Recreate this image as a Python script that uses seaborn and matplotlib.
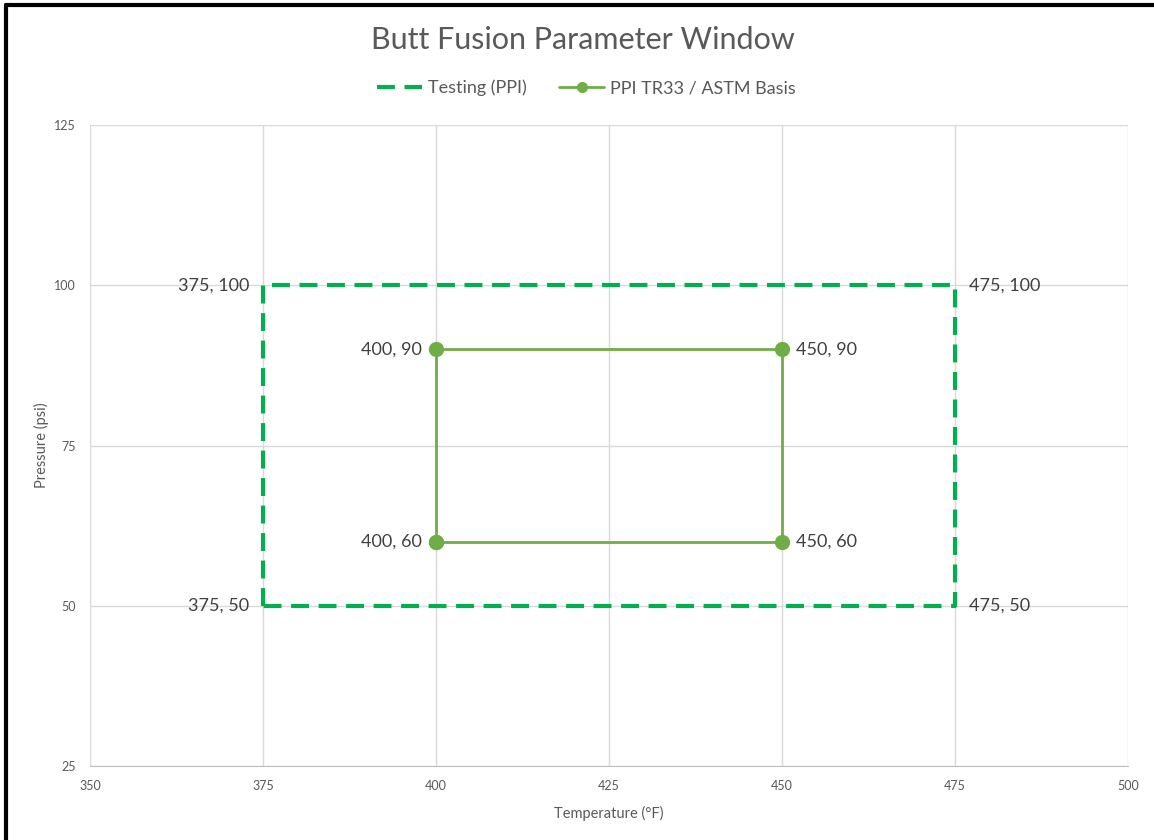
import pandas as pd
import seaborn as sns
import matplotlib.pyplot as plt
from matplotlib.lines import Line2D

# Data: corner points of each window (closed loops)
testing_temp = [375, 375, 475, 475, 375]
testing_psi = [50, 100, 100, 50, 50]
ppi_temp = [400, 400, 450, 450, 400]
ppi_psi = [60, 90, 90, 60, 60]

x_ticks = [350, 375, 400, 425, 450, 475, 500]
y_ticks = [25, 50, 75, 100, 125]

TEST_COLOR = '#00B050'
PPI_COLOR = '#70AD47'
TEXT_COLOR = '#595959'
DASH = (0, (4.3, 2.3))

sns.set_style('white')
plt.rcParams['font.family'] = ['Lato', 'DejaVu Sans']

fig = plt.figure(figsize=(11.54, 8.4), dpi=100)
ax = fig.add_axes([0.078, 0.088, 0.8995, 0.763])

df_test = pd.DataFrame({'Temperature': testing_temp, 'Pressure': testing_psi})
df_ppi = pd.DataFrame({'Temperature': ppi_temp, 'Pressure': ppi_psi})

sns.lineplot(data=df_test, x='Temperature', y='Pressure', sort=False, ax=ax,
             color=TEST_COLOR, linewidth=3, linestyle=DASH,
             estimator=None, zorder=3)
sns.lineplot(data=df_ppi, x='Temperature', y='Pressure', sort=False, ax=ax,
             color=PPI_COLOR, linewidth=2, marker='o', markersize=11,
             markeredgewidth=0, estimator=None, zorder=4)

# Corner labels
for xs, ys in [(testing_temp, testing_psi), (ppi_temp, ppi_psi)]:
    for x, y in zip(xs[:4], ys[:4]):
        if x < 425:
            ax.text(x - 2, y, f'{x}, {y}', ha='right', va='center', fontsize=13, color='#404040')
        else:
            ax.text(x + 2, y, f'{x}, {y}', ha='left', va='center', fontsize=13, color='#404040')

ax.set_xlim(350, 500)
ax.set_ylim(25, 125)
ax.set_xticks(x_ticks)
ax.set_yticks(y_ticks)
ax.tick_params(axis='both', labelsize=9, labelcolor=TEXT_COLOR, length=0, pad=10)
ax.grid(True, color='#D9D9D9', linewidth=1)
for side in ['top', 'right', 'left']:
    ax.spines[side].set_visible(False)
ax.spines['bottom'].set_color('#BFBFBF')
ax.set_xlabel('Temperature (°F)', fontsize=10.5, color=TEXT_COLOR, labelpad=10)
ax.set_ylabel('Pressure (psi)', fontsize=10.5, color=TEXT_COLOR, labelpad=4)

# Title and legend
fig.text(0.505, 0.952, 'Butt Fusion Parameter Window', ha='center', va='center',
         fontsize=22, color=TEXT_COLOR)
handles = [
    Line2D([], [], color=TEST_COLOR, linewidth=3, linestyle=DASH),
    Line2D([], [], color=PPI_COLOR, linewidth=2, marker='o', markersize=8, markeredgewidth=0),
]
fig.legend(handles, ['Testing (PPI)', 'PPI TR33 / ASTM Basis'], loc='center',
           bbox_to_anchor=(0.508, 0.895), ncol=2, frameon=False, fontsize=13,
           labelcolor=TEXT_COLOR, handlelength=2.5, columnspacing=1.8, handletextpad=0.3)

# Black border on top and left
fig.add_artist(Line2D([0.0055, 1.0], [0.9935, 0.9935], color='black', linewidth=3, transform=fig.transFigure))
fig.add_artist(Line2D([0.0055, 0.0055], [0.0, 0.9935], color='black', linewidth=3, transform=fig.transFigure))

plt.savefig('out.png', dpi=100)
